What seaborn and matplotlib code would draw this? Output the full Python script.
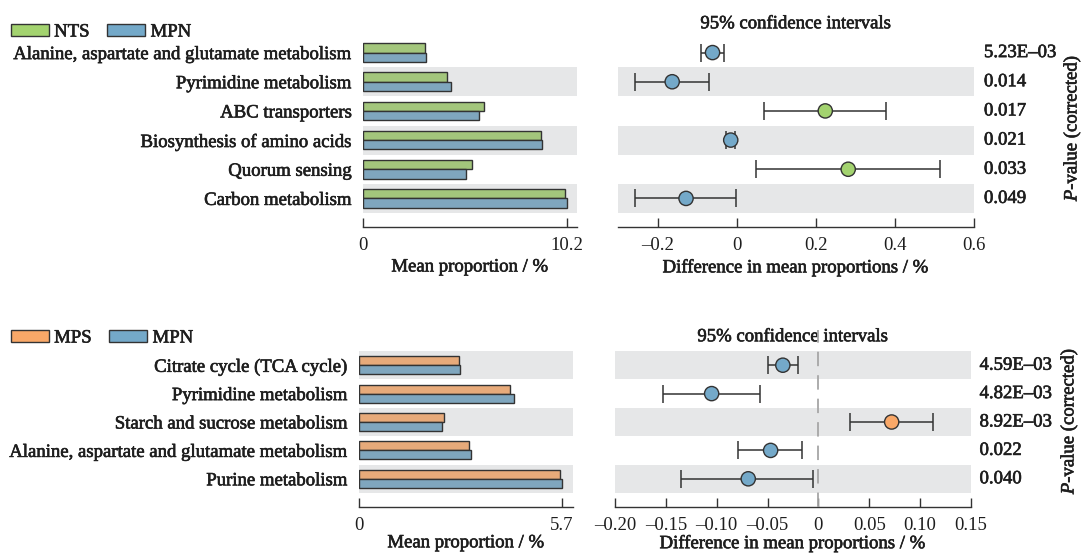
import numpy as np
import pandas as pd
import matplotlib
matplotlib.use('Agg')
import matplotlib.pyplot as plt
import matplotlib.patheffects as pe
import seaborn as sns
from matplotlib.patches import Patch
from matplotlib.transforms import blended_transform_factory

# top comparison: NTS vs MPN
top_paths = ['Alanine, aspartate and glutamate metabolism', 'Pyrimidine metabolism',
             'ABC transporters', 'Biosynthesis of amino acids', 'Quorum sensing',
             'Carbon metabolism']
top_nts = [3.12, 4.23, 6.08, 8.91, 5.45, 10.10]
top_mpn = [3.18, 4.41, 5.83, 8.95, 5.16, 10.24]
top_diff = [-0.061, -0.163, 0.224, -0.015, 0.282, -0.128]
top_lo = [-0.089, -0.257, 0.069, -0.028, 0.048, -0.257]
top_hi = [-0.032, -0.070, 0.378, -0.003, 0.515, -0.001]
top_p = ['5.23E–03', '0.014', '0.017', '0.021', '0.033', '0.049']

# bottom comparison: MPS vs MPN
bot_paths = ['Citrate cycle (TCA cycle)', 'Pyrimidine metabolism',
             'Starch and sucrose metabolism', 'Alanine, aspartate and glutamate metabolism',
             'Purine metabolism']
bot_mps = [2.80, 4.24, 2.39, 3.09, 5.65]
bot_mpn = [2.84, 4.36, 2.32, 3.14, 5.71]
bot_diff = [-0.035, -0.105, 0.072, -0.047, -0.069]
bot_lo = [-0.050, -0.153, 0.031, -0.079, -0.135]
bot_hi = [-0.020, -0.057, 0.113, -0.016, -0.005]
bot_p = ['4.59E–03', '4.82E–03', '8.92E–03', '0.022', '0.040']

GREEN = '#a3d36f'
BLUE = '#74a9c9'
ORANGE = '#f9a868'
BAND = '#e6e7e8'
EDGE = '#333333'
TXT = '#1e1e1e'

sns.set_theme(style='white')
plt.rcParams['font.family'] = ['Liberation Serif', 'DejaVu Serif']
plt.rcParams['mathtext.fontset'] = 'custom'
plt.rcParams['mathtext.rm'] = 'Liberation Serif'
plt.rcParams['mathtext.it'] = 'Liberation Serif:italic'
plt.rcParams['font.size'] = 13.5
plt.rcParams['text.color'] = TXT
plt.rcParams['axes.labelcolor'] = TXT
plt.rcParams['xtick.color'] = TXT
plt.rcParams['ytick.color'] = TXT

FS = 13.5
# slightly heavier text, like the printed figure
HEAVY = [pe.withStroke(linewidth=0.45, foreground=TXT)]


def style_axis(ax):
    for s in ['top', 'right', 'left']:
        ax.spines[s].set_visible(False)
    ax.spines['bottom'].set_position(('outward', 10))
    ax.spines['bottom'].set_color(EDGE)
    ax.spines['bottom'].set_linewidth(1)
    ax.tick_params(axis='x', direction='in', length=6.5, width=1, color=EDGE,
                   pad=7.5, labelsize=FS, bottom=True)


def panel(ax_bar, ax_ci, paths, g1, c1, v1, v2, diff, lo, hi, pvals,
          band_start, bar_max, bar_tick, ci_lim, ci_ticks, ci_labels, zero_line,
          p_x, lpad):
    n = len(paths)
    df = pd.DataFrame({'pathway': paths * 2,
                       'group': [g1] * n + ['MPN'] * n,
                       'value': v1 + v2})
    for i in range(band_start, n, 2):
        ax_bar.axhspan(i - 0.5, i + 0.5, color=BAND, zorder=0, lw=0)
        ax_ci.axhspan(i - 0.5, i + 0.5, color=BAND, zorder=0, lw=0)

    sns.barplot(data=df, x='value', y='pathway', hue='group', hue_order=[g1, 'MPN'],
                palette=[c1, BLUE], orient='h', width=0.64, edgecolor=EDGE,
                linewidth=1, legend=False, ax=ax_bar, zorder=2)
    ax_bar.set_ylim(n - 0.5, -0.5)
    ax_bar.set_xlim(0, bar_max)
    ax_bar.set_xticks([0, bar_tick])
    ax_bar.set_xticklabels(['0', f'{bar_tick:g}'])
    ax_bar.set_ylabel('')
    ax_bar.set_xlabel('Mean proportion / %', fontsize=FS, labelpad=lpad)
    ax_bar.tick_params(axis='y', length=0, pad=8, labelsize=FS)
    style_axis(ax_bar)

    ypos = np.arange(n)
    d = np.array(diff)
    ax_ci.errorbar(d, ypos, xerr=[d - np.array(lo), np.array(hi) - d], fmt='none',
                   ecolor=EDGE, elinewidth=1.1, capsize=6.5, capthick=1.1, zorder=3)
    winner = [g1 if x > 0 else 'MPN' for x in diff]
    sns.scatterplot(x=d, y=ypos, hue=winner, palette={g1: c1, 'MPN': BLUE}, s=105,
                    edgecolor=EDGE, linewidth=1, legend=False, zorder=4, ax=ax_ci)
    if zero_line:
        ax_ci.axvline(0, ymin=-0.1, ymax=1.15, clip_on=False, color='#a6a6a6',
                      linestyle=(0, (8, 5)), lw=1.3, zorder=5)
    ax_ci.set_ylim(n - 0.5, -0.5)
    ax_ci.set_xlim(*ci_lim)
    ax_ci.set_xticks(ci_ticks)
    ax_ci.set_xticklabels(ci_labels)
    ax_ci.set_yticks([])
    ax_ci.set_xlabel('Difference in mean proportions / %', fontsize=FS, labelpad=lpad)
    ax_ci.set_title('95% confidence intervals', fontsize=FS, pad=7, color=TXT)
    style_axis(ax_ci)

    tr = blended_transform_factory(ax_ci.transAxes, ax_ci.transData)
    for i, p in enumerate(pvals):
        ax_ci.text(p_x, i, p, transform=tr, ha='left', va='center', fontsize=FS)


W, H = 1082, 553
fig = plt.figure(figsize=(W / 100, H / 100), dpi=100)

def box(l, t, r, b):
    return [l / W, 1 - b / H, (r - l) / W, (b - t) / H]

ax1 = fig.add_axes(box(363, 38, 577, 213))
ax2 = fig.add_axes(box(618, 38, 974, 213))
ax3 = fig.add_axes(box(359, 351, 573, 493))
ax4 = fig.add_axes(box(615, 351, 971, 493))

panel(ax1, ax2, top_paths, 'NTS', GREEN, top_nts, top_mpn, top_diff, top_lo, top_hi,
      top_p, 1, 10.72, 10.2, (-0.3, 0.6), [-0.2, 0, 0.2, 0.4, 0.6],
      ['–0.2', '0', '0.2', '0.4', '0.6'], False, 1.028, 3)
panel(ax3, ax4, bot_paths, 'MPS', ORANGE, bot_mps, bot_mpn, bot_diff, bot_lo, bot_hi,
      bot_p, 0, 6.01, 5.7, (-0.2, 0.15),
      [-0.2, -0.15, -0.1, -0.05, 0, 0.05, 0.1, 0.15],
      ['–0.20', '–0.15', '–0.10', '–0.05', '0', '0.05', '0.10', '0.15'], True, 1.024, 0)

for ytop, g1, c1 in [(32, 'NTS', GREEN), (338, 'MPS', ORANGE)]:
    handles = [Patch(facecolor=c1, edgecolor=EDGE, linewidth=1),
               Patch(facecolor=BLUE, edgecolor=EDGE, linewidth=1)]
    fig.legend(handles, [g1, 'MPN'], loc='center left', bbox_to_anchor=(11 / W, 1 - ytop / H),
               ncol=2, frameon=False, handlelength=2.0, handleheight=0.55,
               handletextpad=0.3, columnspacing=0.95, borderpad=0, borderaxespad=0,
               fontsize=FS)

fig.text(1072 / W, 1 - 128 / H, '$P$-value (corrected)', rotation=90, ha='center',
         va='center', fontsize=FS)
fig.text(1069 / W, 1 - 421 / H, '$P$-value (corrected)', rotation=90, ha='center',
         va='center', fontsize=FS)

for t in fig.findobj(matplotlib.text.Text):
    if t.get_text():
        t.set_path_effects(HEAVY)

fig.savefig('out.png', dpi=100)
